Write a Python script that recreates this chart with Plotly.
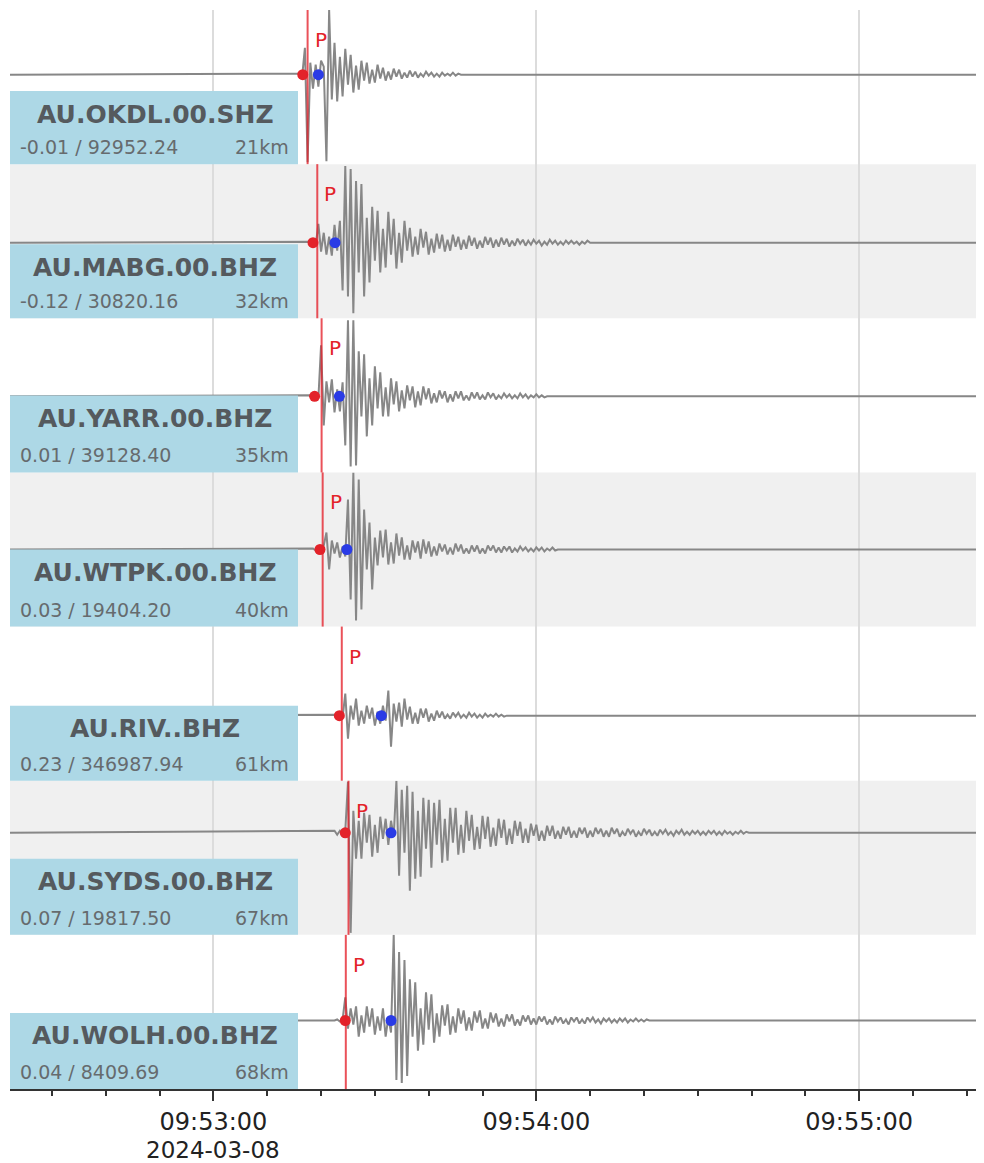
import pandas as pd
import plotly.graph_objects as go
from plotly.subplots import make_subplots

# ---------------- data ----------------
ORIGIN = "2024-03-08 09:53:00"
X_START = "2024-03-08 09:52:22.2"
X_END = "2024-03-08 09:55:23.0"
SAMPLE_DT = 0.5  # seconds between waveform samples

stations = ["AU.OKDL.00.SHZ", "AU.MABG.00.BHZ", "AU.YARR.00.BHZ", "AU.WTPK.00.BHZ",
            "AU.RIV..BHZ", "AU.SYDS.00.BHZ", "AU.WOLH.00.BHZ"]
min_vals = ["-0.01", "-0.12", "0.01", "0.03", "0.23", "0.07", "0.04"]
max_vals = ["92952.24", "30820.16", "39128.40", "19404.20", "346987.94", "19817.50", "8409.69"]
distances_km = [21, 32, 35, 40, 61, 67, 68]

# seconds after 09:53:00
p_arrival_s = [17.5, 19.3, 20.1, 20.3, 23.85, 25.1, 24.6]
red_pick_s = [16.6, 18.5, 18.8, 19.8, 23.4, 24.5, 24.5]
blue_pick_s = [19.5, 22.6, 23.4, 24.8, 31.2, 33.0, 33.0]
wave_start_s = [16.0, 17.5, 18.0, 18.5, 22.5, 22.5, 22.5]

wave_okdl = [1, -1, 27, -88, 12, -14, 10, -12, 14, 8, -87, 65, -25, 32, -27, 18, -22, 26, -10,
             20, -18, 9, -15, 14, -6, 12, -9, 5, -8, 10, -4, 7, -6, 3, -5, 6, -2, 5, -4, 2, -3,
             4, -2, 3, -3, 1, -2, 3, -1, 2, -2, 1, -2, 2, -1, 1, -1, 2, -1, 1, 0]
wave_mabg = [1, -1, 2, -3, 19, -9, 10, -12, 6, -13, 18, -8, 22, -48, 77, -54, 74, -71, 62, -30,
             59, -54, 25, -40, 36, -18, 32, -30, 14, -25, 31, -12, 24, -26, 10, -20, 22, -8, 15,
             -14, 6, -12, 14, -5, 11, -12, 4, -10, 9, -6, 8, -9, 3, -8, 8, -4, 6, -7, 3, -6, 7,
             -3, 5, -6, 2, -5, 6, -2, 5, -5, 3, -4, 5, -2, 4, -4, 2, -3, 4, -1, 3, -3, 2, -2, 3,
             -1, 2, -3, 1, -2, 3, -1, 2, -2, 1, -2, 2, -1, 2, -1, 1, -2, 1, -1, 2, 0]
wave_yarr = [1, -1, 1, -2, 51, -29, 15, -6, 17, -16, 7, -15, 14, -49, 76, -70, 76, -69, 45, -20,
             42, -40, 18, -29, 30, -12, 24, -20, 9, -20, 18, -8, 15, -15, 6, -12, 11, -4, 10,
             -11, 5, -9, 10, -3, 8, -7, 3, -6, 6, -2, 5, -6, 2, -5, 5, -2, 5, -4, 1, -4, 4, -2,
             4, -3, 1, -3, 4, -1, 3, -3, 1, -2, 3, -1, 2, -2, 1, -2, 3, -1, 2, -2, 1, -1, 2, -1,
             1, -1, 0]
wave_wtpk = [1, -1, 1, -1, 4, 17, -20, 9, -4, 7, -8, 3, -7, 50, -50, 77, -71, 70, -60, 40, -20,
             27, -40, 12, -16, 19, -8, 20, -15, 7, -14, 16, -6, 12, -10, 4, -10, 9, -3, 8, -9,
             10, -4, 8, -7, 3, -6, 6, -2, 5, -5, 2, -5, 6, -2, 5, -4, 1, -4, 4, -2, 4, -4, 1,
             -4, 4, -1, 4, -3, 2, -3, 3, -1, 3, -3, 1, -2, 3, -1, 2, -2, 1, -2, 2, -1, 2, -2, 1,
             -1, 2, -1, 0]
wave_riv = [1, -1, 1, -2, 22, -23, 10, -4, 17, -10, 5, -8, 10, -3, 8, -10, 4, -8, 10, -5, 25,
            -31, 12, -6, 13, -11, 17, -4, 9, -8, 3, -8, 7, -2, 7, -6, 2, -5, 5, -2, 4, -3, 1,
            -3, 3, -1, 3, -2, 1, -2, 3, -1, 2, -2, 1, -2, 2, -1, 1, -1, 2, -1, 1, -1, 0]
wave_syds = [2, -2, 2, -2, 2, 51, -100, 22, -26, 12, -26, 20, -10, 18, -24, 8, -20, 16, -6, 14,
             -12, 12, -4, 52, -43, 43, -20, 47, -58, 41, -46, 22, -44, 35, -16, 33, -35, 30,
             -12, 33, -30, 14, -28, 25, -10, 25, -22, 8, -20, 22, -8, 18, -17, 6, -16, 17, -6,
             16, -14, 5, -13, 14, -5, 13, -12, 4, -11, 12, -3, 11, -10, 4, -10, 9, -3, 8, -8, 2,
             -8, 7, -3, 7, -6, 2, -6, 6, -2, 6, -5, 2, -5, 5, -1, 5, -5, 2, -4, 5, -1, 4, -4, 2,
             -4, 5, -1, 4, -4, 1, -3, 4, -1, 3, -4, 1, -3, 4, -1, 3, -3, 1, -3, 3, -1, 3, -2, 1,
             -3, 2, -1, 3, -2, 1, -2, 2, -1, 2, -2, 1, -2, 2, -1, 2, -2, 1, -2, 2, -1, 1, -2, 1,
             -1, 2, -1, 1, 0]
wave_wolh = [0, 1, -1, 1, 23, -8, 12, -4, 14, -16, 5, -12, 14, -6, 12, -14, 4, -10, 12, -16, 3,
             -12, 85, -59, 68, -62, 60, -55, 41, -16, 38, -30, 12, -24, 28, -9, 26, -22, 7, -16,
             15, -5, 16, -14, 4, -12, 12, -3, 10, -10, 3, -10, 9, -2, 10, -8, 2, -8, 8, -2, 7,
             -6, 2, -6, 6, -1, 6, -5, 1, -5, 5, -1, 5, -4, 2, -4, 4, -1, 4, -4, 1, -4, 4, -1, 3,
             -3, 1, -4, 3, -1, 3, -3, 1, -3, 3, -1, 3, -2, 1, -3, 2, -1, 2, -2, 1, -2, 2, -1, 2,
             -2, 1, -1, 2, -1, 1, -1, 1, 0]
waves = [wave_okdl, wave_mabg, wave_yarr, wave_wtpk, wave_riv, wave_syds, wave_wolh]

tick_vals = ["2024-03-08 09:53:00", "2024-03-08 09:54:00", "2024-03-08 09:55:00"]
tick_text = ["09:53:00", "09:54:00", "09:55:00"]
date_label = "2024-03-08"

# ---------------- layout constants ----------------
# page body has an 8px margin: figure is 976x1155 placed at (8, 8)
Y_RANGES = [(-90, 65), (-76, 79), (-76, 78), (-77, 77), (-65, 89), (-102, 52), (-68, 85)]
BOX_H_PX = [73, 74, 77, 77, 75, 76, 76]
PANEL_H = 154.1
PLOT_W = 973.0
BOX_X1 = (298 - 10) / PLOT_W
FONT = "DejaVu Sans"

origin = pd.Timestamp(ORIGIN)
n = len(stations)
fig = make_subplots(rows=n, cols=1, shared_xaxes=True, vertical_spacing=0)

shapes = []
annotations = []
for i in range(n):
    row = i + 1
    suf = "" if i == 0 else str(row)
    xa, ya = "x" + suf, "y" + suf
    w = waves[i]
    xs = [pd.Timestamp(X_START)] + [origin + pd.Timedelta(seconds=wave_start_s[i] + k * SAMPLE_DT)
                                    for k in range(len(w))] + [pd.Timestamp(X_END)]
    ys = [0] + list(w) + [0]
    fig.add_trace(go.Scatter(x=xs, y=ys, mode="lines", line=dict(color="#878787", width=2.0),
                             hoverinfo="skip", showlegend=False), row=row, col=1)
    fig.add_trace(go.Scatter(
        x=[origin + pd.Timedelta(seconds=red_pick_s[i]), origin + pd.Timedelta(seconds=blue_pick_s[i])],
        y=[0, 0], mode="markers",
        marker=dict(size=11, color=["#e3232a", "#2a3be6"], line=dict(width=0)),
        hoverinfo="skip", showlegend=False), row=row, col=1)

    if i % 2 == 1:
        shapes.append(dict(type="rect", xref=xa + " domain", yref=ya + " domain", x0=0, x1=1, y0=0, y1=1,
                           fillcolor="#f0f0f0", line=dict(width=0), layer="below"))
    shapes.append(dict(type="rect", xref=xa + " domain", yref=ya + " domain", x0=0, x1=BOX_X1,
                       y0=0, y1=BOX_H_PX[i] / PANEL_H, fillcolor="#add8e6", line=dict(width=0),
                       layer="above"))
    pt = origin + pd.Timedelta(seconds=p_arrival_s[i])
    shapes.append(dict(type="line", xref=xa, yref=ya + " domain", x0=pt, x1=pt, y0=0, y1=1,
                       line=dict(color="rgba(228,32,42,0.78)", width=2), layer="above"))
    annotations.append(dict(x=pt, y=1 - 30 / PANEL_H, xref=xa, yref=ya + " domain", text="P",
                            showarrow=False, xanchor="left", yanchor="middle", xshift=5,
                            font=dict(family=FONT, size=20, color="#e3232a")))
    annotations.append(dict(x=(155 - 10) / PLOT_W, y=(BOX_H_PX[i] - 23) / PANEL_H,
                            xref=xa + " domain", yref=ya + " domain", text="<b>%s</b>" % stations[i],
                            showarrow=False, xanchor="center", yanchor="middle",
                            font=dict(family=FONT, size=25, color="#555a5e")))
    annotations.append(dict(x=(18 - 10) / PLOT_W, y=17 / PANEL_H, xref=xa + " domain",
                            yref=ya + " domain", text="%s / %s" % (min_vals[i], max_vals[i]),
                            showarrow=False, xanchor="left", yanchor="middle",
                            font=dict(family=FONT, size=19, color="#666b6e")))
    annotations.append(dict(x=(291 - 10) / PLOT_W, y=17 / PANEL_H, xref=xa + " domain",
                            yref=ya + " domain", text="%dkm" % distances_km[i],
                            showarrow=False, xanchor="right", yanchor="middle",
                            font=dict(family=FONT, size=19, color="#666b6e")))
    fig.update_yaxes(range=list(Y_RANGES[i]), showticklabels=False, showgrid=False,
                     zeroline=False, showline=False, fixedrange=True, row=row, col=1)

bottom_x = "x" + str(n)
annotations.append(dict(x=tick_vals[0], y=0, xref=bottom_x, yref="paper", yshift=-61,
                        text=date_label, showarrow=False, xanchor="center", yanchor="middle",
                        font=dict(family=FONT, size=23, color="#222222")))

fig.update_xaxes(type="date", range=[X_START, X_END], tickmode="array", tickvals=tick_vals,
                 ticktext=tick_text, showgrid=True, gridcolor="#dcdcdc", gridwidth=2,
                 zeroline=False, showline=False)
fig.update_xaxes(showticklabels=True, ticks="outside", ticklen=10, tickwidth=2, tickcolor="#333333",
                 showline=True, linecolor="#333333", linewidth=2,
                 tickfont=dict(family=FONT, size=24, color="#222222"),
                 minor=dict(ticks="outside", ticklen=5, tickwidth=2, tickcolor="#333333",
                            dtick=10000, tick0=ORIGIN, showgrid=False),
                 row=n, col=1)

fig.update_layout(width=976, height=1155, margin=dict(l=2, r=1, t=2, b=74),
                  paper_bgcolor="white", plot_bgcolor="white", showlegend=False,
                  shapes=shapes, annotations=annotations, font=dict(family=FONT))
fig.write_html("out.html")
